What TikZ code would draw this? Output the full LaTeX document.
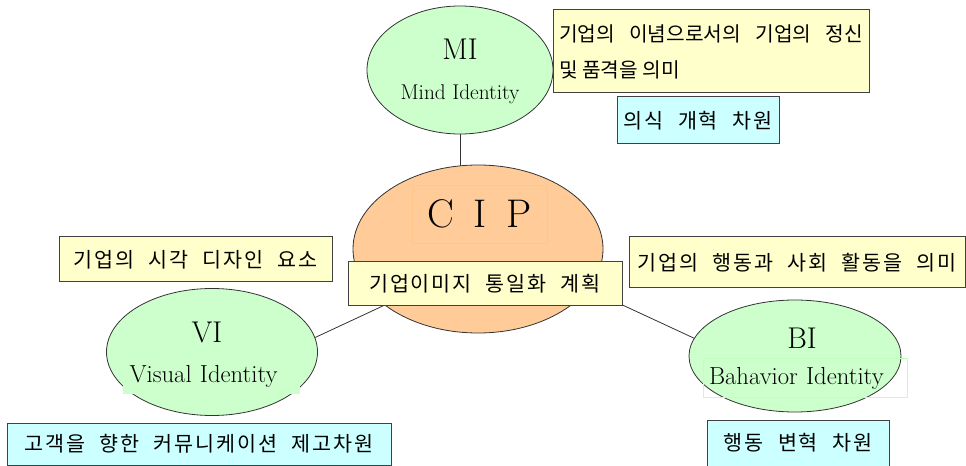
\documentclass[tikz,border=0pt]{standalone}
\usepackage{fontspec}
\newfontfamily\kr{Noto Sans CJK KR}[LetterSpace=9, WordSpace=2.2]
\newfontfamily\krtight{Noto Sans CJK KR}
\usetikzlibrary{backgrounds,shapes.geometric}
\definecolor{idgreen}{HTML}{CCFFCC}
\definecolor{ciporange}{HTML}{FFCC99}
\definecolor{noteyellow}{HTML}{FFFFCC}
\definecolor{notecyan}{HTML}{CCFFFF}

\begin{document}
\begin{tikzpicture}[x=0.75pt, y=-0.75pt,
idoval/.style={ellipse, draw=black!80, line width=0.6pt, fill=idgreen, inner sep=0pt},
note/.style={draw=black!75, line width=0.75pt, fill=noteyellow, inner sep=0pt, align=center, font=\kr\fontsize{15.5}{17}\selectfont},
dimbox/.style={note, fill=notecyan},
bigname/.style={font=\fontsize{22.5}{24}\selectfont, inner sep=0pt, anchor=base},
subname/.style={font=\fontsize{18.5}{20}\selectfont, inner sep=0pt},
link/.style={draw=black!80, line width=0.6pt}
]
\useasboundingbox (0,0) rectangle (966,466);
% the four ovals
\node[idoval, minimum width=139.5pt, minimum height=96pt] (mi) at (460,70) {};
\node[idoval, fill=ciporange, minimum width=187.5pt, minimum height=126pt] (cip) at (478,249) {};
\node[idoval, minimum width=158.25pt, minimum height=95.25pt] (vi) at (212,352) {};
\node[idoval, minimum width=159pt, minimum height=84pt] (bi) at (795,356) {};
% names inside the ovals
\node[bigname] (mititle) at (460,60) {MI};
\node[subname, font=\fontsize{16}{18}\selectfont, anchor=base] (misub) at (460,100) {Mind Identity};
\node[draw=orange!45, inner sep=0pt, minimum width=101.25pt, minimum height=43.5pt, font=\fontsize{30}{32}\selectfont] (ciptitle) at (479.5,214) {C\hspace{0.5em}I\hspace{0.5em}P};
\node[bigname] (vititle) at (207,342) {VI};
\node[subname, fill=idgreen, anchor=north, text width=123pt, align=left, inner xsep=5pt, inner ysep=5pt] (visub) at (211.5,358) {Visual Identity};
\node[bigname] (bititle) at (802,348) {BI};
\node[subname, draw=green!25, anchor=north, text width=144pt, align=left, inner xsep=4.5pt, inner ysep=6.5pt] (bisub) at (805,358) {Bahavior Identity};
% notes
\node[note, minimum width=237pt, minimum height=62.25pt, text width=228pt, align=justify, font=\krtight\fontsize{15.2}{27}\selectfont] (midesc) at (711,51.5) {기업의 이념으로서의 기업의 정신\linebreak 및 품격을 의미};
\node[dimbox, minimum width=121.5pt, minimum height=35.25pt] (midim) at (698,120.5) {의식 개혁 차원};
\node[note, minimum width=205.5pt, minimum height=33pt] (cipplan) at (485,284) {기업이미지 통일화 계획};
\node[note, minimum width=204.75pt, minimum height=33.75pt] (videsc) at (195.5,259.5) {기업의 시각 디자인 요소};
\node[dimbox, minimum width=288pt, minimum height=31.5pt] (vidim) at (199,444) {고객을 향한 커뮤니케이션 제고차원};
\node[note, minimum width=252pt, minimum height=38.25pt] (bidesc) at (797,262.5) {기업의 행동과 사회 활동을 의미};
\node[dimbox, minimum width=136.5pt, minimum height=34.5pt] (bidim) at (798,443) {행동 변혁 차원};
% connectors behind the ovals
\coordinate (mijoin) at (mi.south |- cip.center);
\begin{scope}[on background layer]
\draw[link] (mi) -- (mijoin);
\draw[link] (vi.8) -- (cip.211);
\draw[link] (cip.-20) -- (bi.170);
\end{scope}
\end{tikzpicture}
\end{document}
